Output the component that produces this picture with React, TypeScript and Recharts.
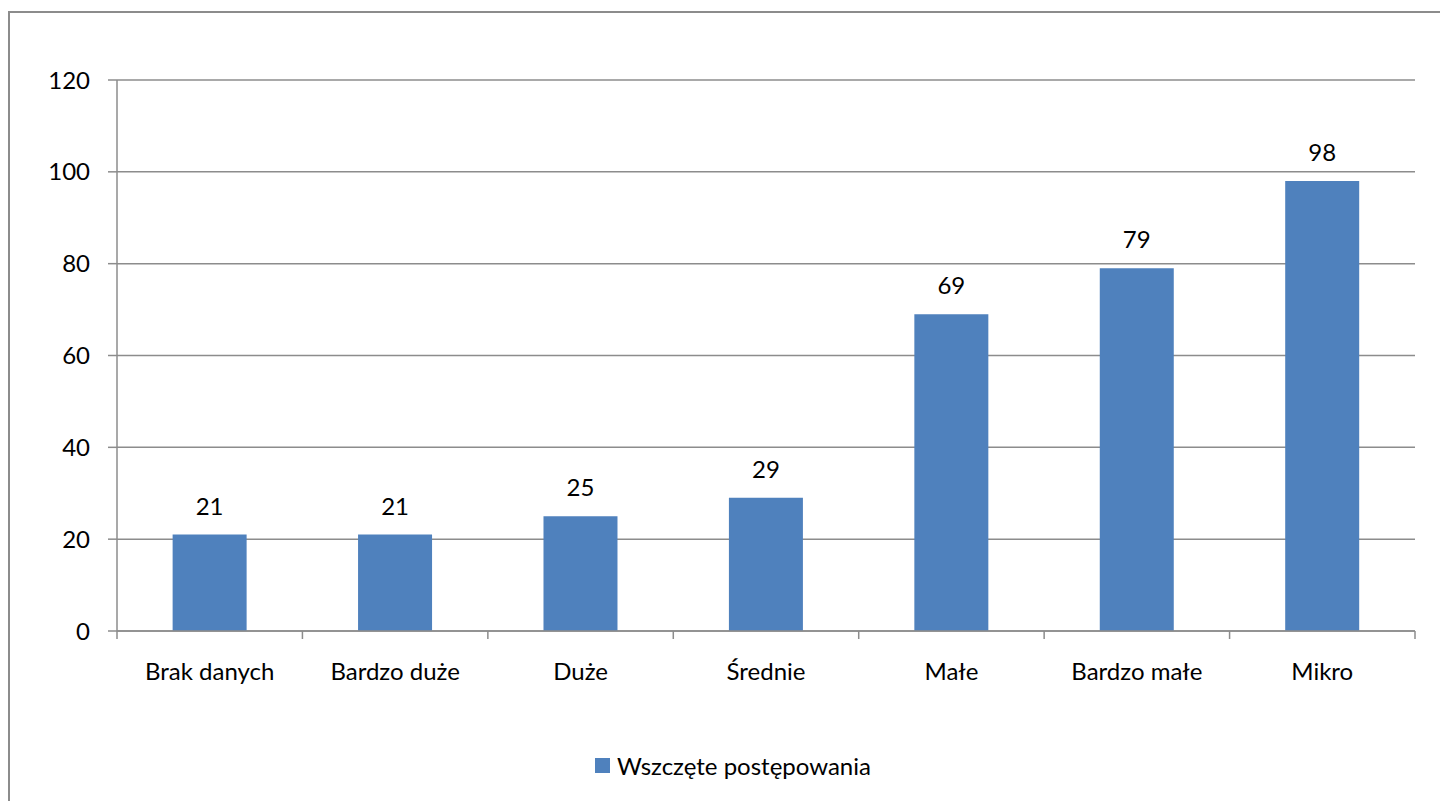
import React from 'react';
import {
  BarChart,
  Bar,
  XAxis,
  YAxis,
  CartesianGrid,
  Legend,
  LabelList,
} from 'recharts';

const CATEGORIES = ['Brak danych', 'Bardzo duże', 'Duże', 'Średnie', 'Małe', 'Bardzo małe', 'Mikro'];
const VALUES = [21, 21, 25, 29, 69, 79, 98];
const Y_TICKS = [0, 20, 40, 60, 80, 100, 120];
const SERIES_NAME = 'Wszczęte postępowania';

const BAR_COLOR = '#4F81BD';
const GRID_COLOR = '#8C8C8C';
const FONT = 'Lato, "Open Sans", sans-serif';
const X_TICK_GAP = 32;

const data = CATEGORIES.map((name, i) => ({ name, value: VALUES[i] }));

// category label plus Excel-style tick marks on the band edges
function CategoryTick(props: any) {
  const { x, y, payload, width, visibleTicksCount, index } = props;
  const band = width / visibleTicksCount;
  const axisY = y - X_TICK_GAP;
  const left = x - band / 2;
  return (
    <g>
      <line x1={left} x2={left} y1={axisY} y2={axisY + 8} stroke={GRID_COLOR} strokeWidth={1.5} />
      {index === visibleTicksCount - 1 && (
        <line x1={x + band / 2} x2={x + band / 2} y1={axisY} y2={axisY + 8} stroke={GRID_COLOR} strokeWidth={1.5} />
      )}
      <text x={x} y={y} dy="0.71em" textAnchor="middle" fill="#000" fontSize={24} fontFamily={FONT}>
        {payload.value}
      </text>
    </g>
  );
}

function LegendContent({ payload }: any) {
  return (
    <div style={{ display: 'flex', justifyContent: 'center', alignItems: 'center' }}>
      {(payload || []).map((p: any) => (
        <div key={p.value} style={{ display: 'flex', alignItems: 'center' }}>
          <span style={{ width: 15, height: 15, background: p.color, marginRight: 7, display: 'inline-block' }} />
          <span style={{ fontSize: 24, color: '#000', fontFamily: FONT }}>{p.value}</span>
        </div>
      ))}
    </div>
  );
}

export default function App() {
  return (
    <div
      style={{
        position: 'fixed',
        left: 8,
        top: 11,
        width: 1430,
        height: 788,
        overflow: 'hidden',
        borderLeft: `2px solid ${GRID_COLOR}`,
        borderTop: `2px solid ${GRID_COLOR}`,
        background: '#fff',
        fontFamily: FONT,
      }}
    >
      <BarChart
        width={1430}
        height={786}
        data={data}
        margin={{ top: 67, right: 25, left: 0, bottom: 108 }}
        barCategoryGap="30%"
      >
        <CartesianGrid vertical={false} stroke={GRID_COLOR} strokeWidth={1.5} />
        <XAxis
          dataKey="name"
          height={60}
          stroke={GRID_COLOR}
          strokeWidth={1.5}
          tickLine={false}
          tickSize={0}
          tickMargin={X_TICK_GAP}
          interval={0}
          tick={<CategoryTick />}
        />
        <YAxis
          width={107}
          domain={[0, 120]}
          ticks={Y_TICKS}
          tickSize={9}
          tickMargin={18}
          stroke={GRID_COLOR}
          strokeWidth={1.5}
          tick={{ fill: '#000', fontSize: 24, fontFamily: FONT }}
        />
        <Legend
          verticalAlign="middle"
          layout="horizontal"
          wrapperStyle={{ top: 738, left: 0, width: 1446 }}
          content={<LegendContent />}
        />
        <Bar dataKey="value" name={SERIES_NAME} fill={BAR_COLOR} isAnimationActive={false}>
          <LabelList
            dataKey="value"
            position="top"
            offset={20}
            style={{ fill: '#000', fontSize: 24, fontFamily: FONT }}
          />
        </Bar>
      </BarChart>
    </div>
  );
}
